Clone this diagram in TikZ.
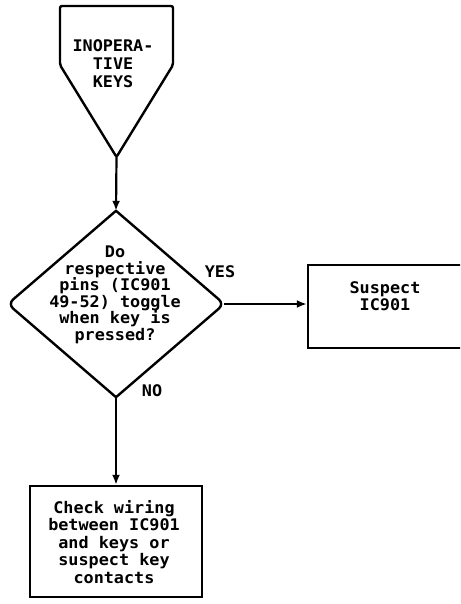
\documentclass[tikz,border=0pt]{standalone}
\usepackage{fontspec}
\newfontfamily\plotfont[FakeStretch=1.05]{DejaVu Sans Mono Bold}
\usepackage{tikz}
\usetikzlibrary{arrows.meta}
\usetikzlibrary{positioning}
\usetikzlibrary{shapes.geometric}
\begin{document}
\begin{tikzpicture}[
  x=1pt, y=1pt,
  line width=2.4pt,
  txt/.style={align=center, inner sep=0pt,
    font=\plotfont\fontsize{16}{17.5}\selectfont},
  decisionbox/.style={diamond, minimum width=214pt, minimum height=184pt,
    inner sep=0pt},
  actionbox/.style={rectangle, draw, inner sep=0pt},
  arrow/.style={-{Latex[length=10pt, width=8pt]}, line width=2.2pt},
]
\useasboundingbox (0,0) rectangle (460,-604);
\clip (0,0) rectangle (460,-604);

% === Start: inoperative keys ===
\draw[rounded corners=2pt] (60,-6) -- (173,-6) -- (173,-65) -- (116.5,-157)
  -- (60,-65) -- cycle;
\coordinate (starttip) at (116.5,-157);
\node[txt, font=\plotfont\fontsize{16}{18}\selectfont] (start) at (113,-64) {INOPERA-\\TIVE\\KEYS};

% === Decision: pins toggle? ===
\node[decisionbox] (decision) at (116,-304) {};
\draw[rounded corners=7pt, line cap=round] (decision.north) -- (decision.east) -- (decision.south);
\draw[rounded corners=7pt, line cap=round] (decision.south) -- (decision.west) -- (decision.north);
\node[txt, font=\plotfont\fontsize{16}{16.5}\selectfont] (decisiontext) at (115,-295)
  {Do\\respective\\pins (IC901\\49-52) toggle\\when key is\\pressed?};
\draw[arrow] (starttip) -- (decision.north);

% === YES branch ===
\node[actionbox, minimum width=160pt, minimum height=83pt] (suspect) at (388,-306.5) {};
\node[txt] (suspecttext) at (385,-296) {Suspect\\IC901};
\draw[arrow] (decision.east) -- (decision.east -| suspect.west);
\node[txt] (yes) at (220,-272) {YES};

% === NO branch ===
\node[actionbox, minimum width=172pt, minimum height=111pt] (check) at (116,-541.5) {};
\node[txt] (checktext) at (114,-542)
  {Check wiring\\between IC901\\and keys or\\suspect key\\contacts};
\draw[arrow] (decision.south) -- (check.north);
\node[txt] (no) at (152,-391) {NO};
\end{tikzpicture}
\end{document}
